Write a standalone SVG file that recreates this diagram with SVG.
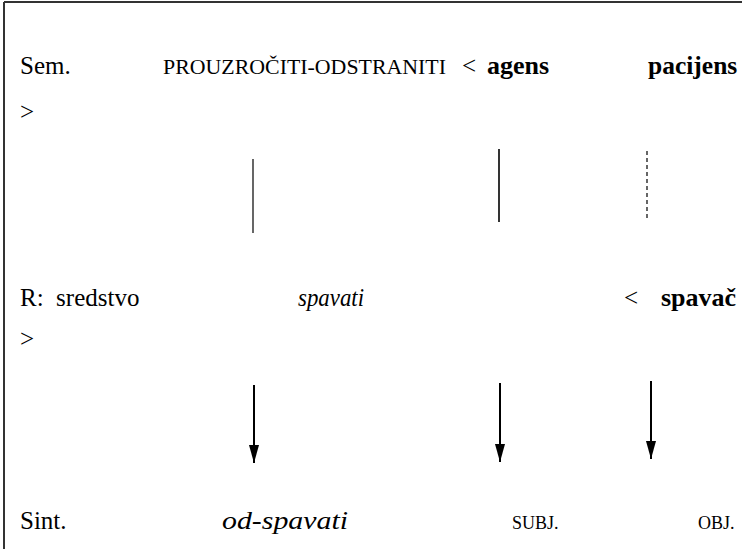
<svg xmlns="http://www.w3.org/2000/svg" width="742" height="549" viewBox="0 0 742 549">
  <defs>
    <style>
      .t { font-family: 'Liberation Serif', Tinos, 'Times New Roman', Times, 'DejaVu Serif', serif; font-size: 25px; fill: #000; }
      .sc { font-size: 21px; }
      .small { font-size: 18px; }
      .b { font-weight: bold; font-size: 26px; }
      .i { font-style: italic; }
      .link { stroke: #000; stroke-width: 1.2; fill: none; }
      .dash { stroke-dasharray: 4 3; }
      .arrow { stroke: #000; stroke-width: 2; fill: none; }
    </style>
    <marker id="head" viewBox="0 0 18 10" refX="18" refY="5" markerWidth="18" markerHeight="10" markerUnits="userSpaceOnUse" orient="auto">
      <path d="M0,0 L18,5 L0,10 Z" fill="#000"/>
    </marker>
  </defs>
  <rect width="742" height="549" fill="#fff"/>
  <!-- frame: top and left rules only -->
  <path d="M4,2 H742 M4,2 V549" stroke="#333" stroke-width="2" fill="none"/>

  <g id="row-sem">
    <text class="t" x="20" y="74">Sem.</text>
    <text class="t sc" x="163" y="74" textLength="283" lengthAdjust="spacingAndGlyphs">PROUZROČITI-ODSTRANITI</text>
    <text class="t" x="462" y="74">&lt;</text>
    <text class="t b" x="487" y="74">agens</text>
    <text class="t b" x="648" y="74" style="font-size:25.5px">pacijens</text>
    <text class="t" x="20" y="120">&gt;</text>
  </g>

  <g id="row-r">
    <text class="t" x="20" y="306" xml:space="preserve">R:  sredstvo</text>
    <text class="t i" x="298" y="306" textLength="66" lengthAdjust="spacingAndGlyphs">spavati</text>
    <text class="t" x="624" y="306">&lt;</text>
    <text class="t b" x="661" y="306">spavač</text>
    <text class="t" x="20" y="347">&gt;</text>
  </g>

  <g id="row-sint">
    <text class="t" x="20" y="529">Sint.</text>
    <text class="t i" x="222" y="529" style="font-size:26px" textLength="126" lengthAdjust="spacingAndGlyphs">od-spavati</text>
    <text class="t small" x="512" y="529">SUBJ.</text>
    <text class="t small" x="698" y="529">OBJ.</text>
  </g>

  <g id="connectors">
    <line class="link" x1="253" y1="159" x2="253" y2="233"/>
    <line class="link" x1="499" y1="149" x2="499" y2="222" style="stroke-width:1.6"/>
    <line class="link dash" x1="647" y1="151" x2="647" y2="218"/>
    <line class="arrow" x1="254" y1="385" x2="254" y2="463" marker-end="url(#head)"/>
    <line class="arrow" x1="500" y1="383" x2="500" y2="462" marker-end="url(#head)"/>
    <line class="arrow" x1="651" y1="381" x2="651" y2="459" marker-end="url(#head)"/>
  </g>
</svg>
